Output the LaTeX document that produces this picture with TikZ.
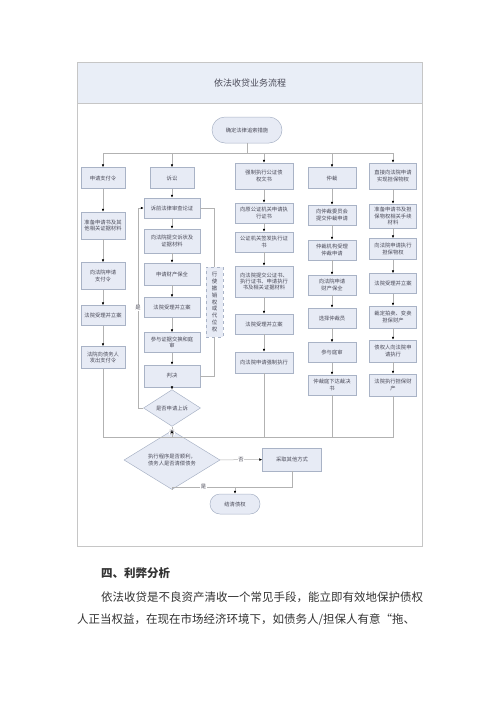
\documentclass[tikz,border=0pt]{standalone}
\usepackage{fontspec}
\setmainfont{Noto Sans CJK SC}
\usetikzlibrary{arrows.meta,shapes.geometric}

\definecolor{boxfill}{HTML}{E7EBF5}
\definecolor{boxline}{HTML}{A9B3C6}
\definecolor{wire}{HTML}{B2B2B2}
\definecolor{ink}{HTML}{4A4A58}
\definecolor{bandfill}{HTML}{E9EEF7}
\definecolor{frameline}{HTML}{C6C6C6}
\definecolor{bodytext}{HTML}{333333}

\begin{document}
\begin{tikzpicture}[
    box/.style={shape=rectangle, draw=boxline, fill=boxfill, line width=0.5pt, inner sep=1pt,
                align=center, text=ink, minimum height=20pt, font=\fontsize{5.3}{6.4}\selectfont},
    c1/.style={box, minimum width=44pt},
    c2/.style={box, minimum width=56pt},
    c3/.style={box, minimum width=58pt},
    c4/.style={box, minimum width=48pt},
    c5/.style={box, minimum width=47pt},
    decide/.style={box, shape=diamond, inner sep=0pt},
    lnk/.style={draw=wire, line width=0.5pt},
    arr/.style={lnk, -{Latex[length=3pt, width=2.6pt, color=black]}},
    tag/.style={fill=white, inner sep=0.6pt, text=ink, font=\fontsize{5.3}{6.4}\selectfont}]

    \useasboundingbox (0pt, 0pt) rectangle (500pt, -707pt);

    % frame and title band
    \path[draw=frameline, fill=bandfill, line width=0.6pt] (77pt, -62pt) rectangle (422pt, -103pt);
    \path[draw=frameline, line width=0.6pt] (77pt, -62pt) rectangle (422pt, -546pt);
    \node at (250pt, -83pt) (title) [text=ink, font=\fontsize{9}{10}\selectfont] {依法收贷业务流程};

    \node at (247pt, -130pt) (start) [box, rounded corners=13pt, minimum width=70pt, minimum height=26pt] {确定法律追索措施};
    \coordinate (split) at (247pt, -153pt);

    % column 1
    \node at (103pt, -178pt) (n11) [c1, minimum height=21pt] {申请支付令};
    \node at (103pt, -225.5pt) (n12) [c1, minimum height=27pt] {准备申请书及其\\他相关证据材料};
    \node at (103pt, -276pt) (n13) [c1, minimum height=27pt] {向法院申请\\支付令};
    \node at (103pt, -315.5pt) (n14) [c1] {法院受理并立案};
    \node at (103pt, -357.5pt) (n15) [c1, minimum height=22pt] {法院向债务人\\发出支付令};

    % column 2
    \node at (172pt, -178pt) (n21) [c1, minimum height=21pt] {诉讼};
    \node at (172pt, -208pt) (n22) [c2] {诉前法律审查论证};
    \node at (172pt, -241pt) (n23) [c2, minimum height=24pt] {向法院提交诉状及\\证据材料};
    \node at (172pt, -274pt) (n24) [c2, minimum height=22pt] {申请财产保全};
    \node at (172pt, -307.5pt) (n25) [c2] {法院受理并立案};
    \node at (172pt, -342.5pt) (n26) [c2] {参与证据交换和庭\\审};
    \node at (172pt, -376pt) (n27) [c2, minimum height=22pt] {判决};
    \node at (172pt, -408pt) (d1) [decide, minimum width=57pt, minimum height=24pt] {是否申请上诉};
    \node at (214.5pt, -302pt) (dash) [box, dashed, minimum width=17pt, minimum height=70pt,
        font=\fontsize{5.5}{6.8}\selectfont] {行\\使\\撤\\销\\权\\或\\代\\位\\权};
    \coordinate (yes1) at (138pt, -408pt);

    % column 3
    \node at (264pt, -176pt) (n31) [c3, minimum height=26pt] {强制执行公证债\\权文书};
    \node at (264pt, -213pt) (n32) [c3] {向原公证机关申请执\\行证书};
    \node at (264pt, -242pt) (n33) [c3] {公证机关签发执行证\\书};
    \node at (264pt, -281.5pt) (n34) [c3, minimum height=31pt] {向法院提交公证书、\\执行证书、申请执行\\书及相关证据材料};
    \node at (264pt, -324pt) (n35) [c3] {法院受理并立案};
    \node at (264pt, -362.5pt) (n36) [c3, minimum height=21pt] {向法院申请强制执行};

    % column 4
    \node at (332pt, -178pt) (n41) [c4, minimum height=21pt] {仲裁};
    \node at (332pt, -215pt) (n42) [c4] {向仲裁委员会\\提交仲裁申请};
    \node at (332pt, -250pt) (n43) [c4] {仲裁机构受理\\仲裁申请};
    \node at (332pt, -285pt) (n44) [c4] {向法院申请\\财产保全};
    \node at (332pt, -318pt) (n45) [c4] {选择仲裁员};
    \node at (332pt, -352.5pt) (n46) [c4] {参与庭审};
    \node at (332pt, -385pt) (n47) [c4] {仲裁庭下达裁决\\书};

    % column 5
    \node at (393pt, -176pt) (n51) [c5, minimum height=26pt] {直接向法院申请\\实现担保物权};
    \node at (393pt, -216pt) (n52) [c5, minimum height=24pt] {准备申请书及担\\保物权相关手续\\材料};
    \node at (393pt, -249pt) (n53) [c5, minimum height=21pt] {向法院申请执行\\担保物权};
    \node at (393pt, -283.5pt) (n54) [c5] {法院受理并立案};
    \node at (393pt, -317pt) (n55) [c5, minimum height=22pt] {裁定拍卖、变卖\\担保财产};
    \node at (393pt, -351pt) (n56) [c5, minimum height=22pt] {债权人向法院申\\请执行};
    \node at (393pt, -385pt) (n57) [c5, minimum height=22pt] {法院执行担保财\\产};

    % bottom
    \coordinate (merge) at (172pt, -437pt);
    \node at (172pt, -460pt) (d2) [decide, minimum width=96pt, minimum height=30pt] {执行程序是否顺利，\\债务人是否清偿债务};
    \node at (292pt, -459.5pt) (other) [box, minimum width=59pt, minimum height=23pt] {采取其他方式};
    \coordinate (join) at (235pt, -487pt);
    \node at (235pt, -504pt) (done) [box, rounded corners=10pt, minimum width=50pt, minimum height=20pt] {结清债权};

    % connectors
    \path[lnk] (start) -- (split);
    \path[arr] (split) -| (n11);
    \path[arr] (split) -| (n21);
    \path[arr] (split) -| (n31);
    \path[arr] (split) -| (n41);
    \path[arr] (split) -| (n51);

    \path[arr] (n11) -- (n12);
    \path[arr] (n12) -- (n13);
    \path[arr] (n13) -- (n14);
    \path[arr] (n14) -- (n15);

    \path[arr] (n21) -- (n22);
    \path[arr] (n22) -- (n23);
    \path[arr] (n23) -- (n24);
    \path[arr] (n24) -- (n25);
    \path[arr] (n25) -- (n26);
    \path[arr] (n26) -- (n27);
    \path[arr] (n27) -- (d1);
    \path[lnk] (n22) -| (dash);
    \path[lnk] (dash) |- (n27);
    \path[lnk] (d1) -- (yes1);
    \path[arr] (yes1) |- node [pos=0.25, tag] {是} (n22);

    \path[arr] (n31) -- (n32);
    \path[arr] (n32) -- (n33);
    \path[arr] (n33) -- (n34);
    \path[arr] (n34) -- (n35);
    \path[arr] (n35) -- (n36);

    \path[arr] (n41) -- (n42);
    \path[arr] (n42) -- (n43);
    \path[arr] (n43) -- (n44);
    \path[arr] (n44) -- (n45);
    \path[arr] (n45) -- (n46);
    \path[arr] (n46) -- (n47);

    \path[arr] (n51) -- (n52);
    \path[arr] (n52) -- (n53);
    \path[arr] (n53) -- (n54);
    \path[arr] (n54) -- (n55);
    \path[arr] (n55) -- (n56);
    \path[arr] (n56) -- (n57);

    \path[lnk] (n15) |- (merge);
    \path[lnk] (n36) |- (merge);
    \path[lnk] (n47) |- (merge);
    \path[lnk] (n57) |- (merge);
    \path[lnk] (d1) -- node [pos=0.55, tag] {否} (merge);
    \path[arr] (merge) -- (d2);
    \path[arr] (d2) -- node [midway, tag] {否} (other);
    \path[lnk] (d2) |- node [pos=0.75, tag] {是} (join);
    \path[lnk] (other) |- (join);
    \path[arr] (join) -- (done);

    % text below the frame
    \node at (101pt, -573pt) (head) [anchor=west, inner sep=0pt, text=bodytext, font=\fontsize{11.5}{13}\selectfont\bfseries] {四、利弊分析};
    \node at (101pt, -597pt) (line1) [anchor=west, inner sep=0pt, text=bodytext, font=\fontsize{11.5}{13}\selectfont] {依法收贷是不良资产清收一个常见手段，能立即有效地保护债权};
    \node at (77pt, -620pt) (line2) [anchor=west, inner sep=0pt, text=bodytext, font=\fontsize{11.5}{13}\selectfont] {人正当权益，在现在市场经济环境下，如债务人/担保人有意“拖、};

\end{tikzpicture}
\end{document}
